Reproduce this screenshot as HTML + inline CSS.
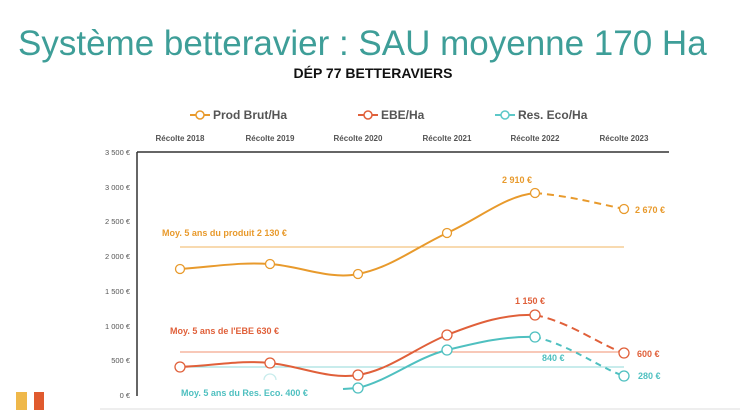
<!DOCTYPE html><html><head><meta charset="utf-8"><style>
body{margin:0;width:747px;height:410px;background:#fff;overflow:hidden;font-family:"Liberation Sans",sans-serif}
</style></head><body>
<svg width="747" height="410" xmlns="http://www.w3.org/2000/svg" font-family="Liberation Sans, sans-serif">
<text x="18" y="55" font-size="35" fill="#3e9e98">Système betteravier : SAU moyenne 170 Ha</text>
<text x="373" y="78" font-size="14" font-weight="bold" text-anchor="middle" fill="#111">DÉP 77 BETTERAVIERS</text>
<g font-size="11" font-weight="bold" fill="#555">
<line x1="190" y1="115" x2="210" y2="115" stroke="#e89a2c" stroke-width="2"/><circle cx="200" cy="115" r="4" fill="#fff" stroke="#e89a2c" stroke-width="1.5"/><text x="213" y="119" font-size="12">Prod Brut/Ha</text>
<line x1="358" y1="115" x2="378" y2="115" stroke="#e0603a" stroke-width="2"/><circle cx="368" cy="115" r="4" fill="#fff" stroke="#e0603a" stroke-width="1.5"/><text x="381" y="119" font-size="12">EBE/Ha</text>
<line x1="495" y1="115" x2="515" y2="115" stroke="#5cc8c8" stroke-width="2"/><circle cx="505" cy="115" r="4" fill="#fff" stroke="#5cc8c8" stroke-width="1.5"/><text x="518" y="119" font-size="12">Res. Eco/Ha</text>
</g>
<g font-size="8" font-weight="bold" fill="#555" text-anchor="middle">
<text x="180" y="141">Récolte 2018</text><text x="270" y="141">Récolte 2019</text><text x="358" y="141">Récolte 2020</text><text x="447" y="141">Récolte 2021</text><text x="535" y="141">Récolte 2022</text><text x="624" y="141">Récolte 2023</text>
</g>
<line x1="137" y1="152" x2="669" y2="152" stroke="#333" stroke-width="1.5"/>
<line x1="137" y1="152" x2="137" y2="396" stroke="#333" stroke-width="1.5"/>
<g font-size="7.5" fill="#555" text-anchor="end">
<text x="130" y="155">3 500 €</text><text x="130" y="190">3 000 €</text><text x="130" y="224">2 500 €</text><text x="130" y="259">2 000 €</text><text x="130" y="294">1 500 €</text><text x="130" y="329">1 000 €</text><text x="130" y="363">500 €</text><text x="130" y="398">0 €</text>
</g>
<line x1="180" y1="247" x2="624" y2="247" stroke="#f0b460" stroke-width="1"/>
<line x1="180" y1="352" x2="624" y2="352" stroke="#f09070" stroke-width="1"/>
<line x1="180" y1="367" x2="624" y2="367" stroke="#90dada" stroke-width="1"/>
<path d="M180 269 C220 266 240 262 270 264 C300 266 330 280 358 274 C390 268 415 248 447 233 C480 218 505 196 535 193" fill="none" stroke="#e89a2c" stroke-width="2"/>
<path d="M535 193 C570 196 600 204 624 209" fill="none" stroke="#e89a2c" stroke-width="2" stroke-dasharray="7,5"/>
<path d="M180 367 C220 365 240 360 270 363 C300 366 330 380 358 375 C390 370 415 348 447 335 C480 322 505 314 535 315" fill="none" stroke="#e0603a" stroke-width="2"/>
<path d="M535 315 C570 322 600 345 624 353" fill="none" stroke="#e0603a" stroke-width="2" stroke-dasharray="8,5"/>
<path d="M343 389 L358 388 C390 380 415 358 447 350 C480 342 505 336 535 337" fill="none" stroke="#4fc0c0" stroke-width="2"/>
<path d="M535 337 C570 345 600 368 624 376" fill="none" stroke="#4fc0c0" stroke-width="2" stroke-dasharray="6,5"/>
<path d="M264 380 A6 6 0 0 1 276 380" fill="none" stroke="#c8ecec" stroke-width="1.3"/>
<g fill="#fff" stroke-width="1.3">
<circle cx="180" cy="269" r="4.5" stroke="#e89a2c"/><circle cx="270" cy="264" r="4.5" stroke="#e89a2c"/><circle cx="358" cy="274" r="4.5" stroke="#e89a2c"/><circle cx="447" cy="233" r="4.5" stroke="#e89a2c"/><circle cx="535" cy="193" r="4.5" stroke="#e89a2c"/><circle cx="624" cy="209" r="4.5" stroke="#e89a2c"/>
<circle cx="180" cy="367" r="5" stroke="#e0603a"/><circle cx="270" cy="363" r="5" stroke="#e0603a"/><circle cx="358" cy="375" r="5" stroke="#e0603a"/><circle cx="447" cy="335" r="5" stroke="#e0603a"/><circle cx="535" cy="315" r="5" stroke="#e0603a"/><circle cx="624" cy="353" r="5" stroke="#e0603a"/>
<circle cx="358" cy="388" r="5" stroke="#4fc0c0"/><circle cx="447" cy="350" r="5" stroke="#4fc0c0"/><circle cx="535" cy="337" r="5" stroke="#4fc0c0"/><circle cx="624" cy="376" r="5" stroke="#4fc0c0"/>
</g>
<g font-size="9" font-weight="bold">
<text x="162" y="236" fill="#e89a2c">Moy. 5 ans du produit 2 130 €</text>
<text x="170" y="334" fill="#e0603a">Moy. 5 ans de l'EBE  630 €</text>
<text x="181" y="396" fill="#4fc0c0">Moy. 5 ans du Res. Eco.  400 €</text>
<text x="502" y="183" fill="#e89a2c">2 910 €</text>
<text x="635" y="213" fill="#e89a2c">2 670 €</text>
<text x="515" y="304" fill="#e0603a">1 150 €</text>
<text x="637" y="357" fill="#e0603a">600 €</text>
<text x="542" y="361" fill="#4fc0c0">840 €</text>
<text x="638" y="379" fill="#4fc0c0">280 €</text>
</g>
<rect x="16" y="392" width="11" height="18" fill="#efb84a"/>
<rect x="34" y="392" width="10" height="18" fill="#e05a2e"/>
<line x1="100" y1="409" x2="740" y2="409" stroke="#ddd" stroke-width="1"/>
</svg>
</body></html>
